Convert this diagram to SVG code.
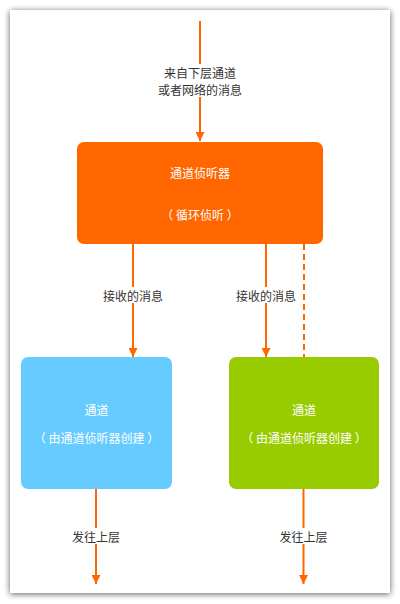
<svg xmlns="http://www.w3.org/2000/svg" width="400" height="604" viewBox="0 0 400 604">
<style>
text{font-family:"Noto Sans CJK SC","Liberation Sans",sans-serif;font-size:12px;text-anchor:middle;dominant-baseline:central}
.w{fill:#ffffff}
.lbl{fill:#333333}
.ln{stroke:#FF6600;stroke-width:2;fill:none}
.bg{fill:#ffffff}
</style>
<defs>
<filter id="sh" x="-10%" y="-10%" width="120%" height="120%">
<feGaussianBlur in="SourceAlpha" stdDeviation="3"/>
<feOffset dx="0" dy="1"/>
<feComponentTransfer><feFuncA type="linear" slope="0.65"/></feComponentTransfer>
<feMerge><feMergeNode/><feMergeNode in="SourceGraphic"/></feMerge>
</filter>
<marker id="arr" markerWidth="10" markerHeight="9" refX="9" refY="4.5" orient="auto" markerUnits="userSpaceOnUse">
<path d="M0,0 L9,4.5 L0,9 Z" fill="#FF6600"/>
</marker>
</defs>
<rect x="10" y="10" width="380" height="583" fill="#ffffff" filter="url(#sh)"/>
<g id="connectors">
<line class="ln" x1="200" y1="21" x2="200" y2="141" marker-end="url(#arr)"/>
<line class="ln" x1="133" y1="244" x2="133" y2="357" marker-end="url(#arr)"/>
<line class="ln" x1="266" y1="244" x2="266" y2="357" marker-end="url(#arr)"/>
<line class="ln" x1="304" y1="244" x2="304" y2="357" stroke-dasharray="6,4"/>
<line class="ln" x1="96" y1="489" x2="96" y2="584" marker-end="url(#arr)"/>
<line class="ln" x1="303.5" y1="489" x2="303.5" y2="584" marker-end="url(#arr)"/>
<rect class="bg" x="158" y="64" width="84" height="33"/>
<text class="lbl" x="200" y="72">来自下层通道</text>
<text class="lbl" x="200" y="89">或者网络的消息</text>
<rect class="bg" x="102" y="287" width="62" height="16"/>
<text class="lbl" x="133" y="295">接收的消息</text>
<rect class="bg" x="235" y="287" width="62" height="16"/>
<text class="lbl" x="266" y="295">接收的消息</text>
<rect class="bg" x="71" y="528" width="50" height="16"/>
<text class="lbl" x="96" y="536">发往上层</text>
<rect class="bg" x="278" y="528" width="50" height="16"/>
<text class="lbl" x="303.5" y="536">发往上层</text>
</g>
<g id="listener">
<rect x="77" y="142" width="246" height="102" rx="7" fill="#FF6600"/>
<text class="w" x="200" y="172">通道侦听器</text>
<text class="w" x="200" y="214">（ 循环侦听 ）</text>
</g>
<g id="channel1">
<rect x="21" y="357" width="151" height="132" rx="7" fill="#66CCFF"/>
<text class="w" x="96.5" y="409">通道</text>
<text class="w" x="96.5" y="437">（ 由通道侦听器创建 ）</text>
</g>
<g id="channel2">
<rect x="229" y="357" width="150" height="132" rx="7" fill="#99CC00"/>
<text class="w" x="304" y="409">通道</text>
<text class="w" x="304" y="437">（ 由通道侦听器创建 ）</text>
</g>
</svg>
